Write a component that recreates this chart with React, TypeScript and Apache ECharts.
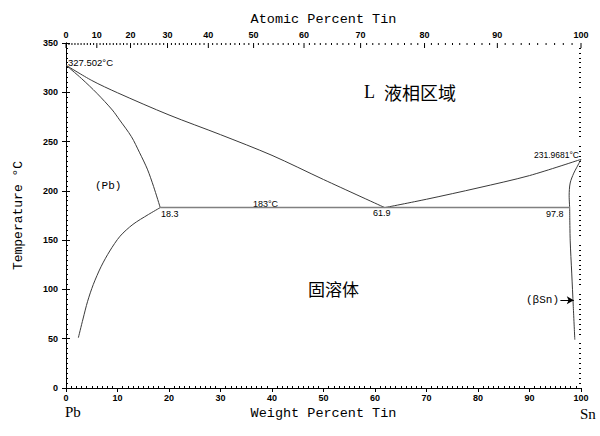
import React, { useEffect, useRef } from "react";
import * as echarts from "echarts";

// ---- data (weight percent Sn, temperature °C) ----
const liquidusPb: number[][] = [[0, 327.502], [5, 312], [10, 299.5], [20, 277], [30, 257], [40, 236], [50, 211.5], [61.9, 183]];
const solidusPb: number[][] = [[0, 327.502], [3, 314], [6, 299], [9, 282], [10.4, 272], [12.7, 255], [14.3, 238.6], [15.8, 222], [17, 204.5], [18.3, 183]];
const solvusPb: number[][] = [[18.3, 183], [16, 176], [13, 166], [10.5, 154], [8.5, 139], [6.8, 123], [5.3, 105], [4.2, 88], [3.3, 70], [2.4, 51]];
const liquidusSn: number[][] = [[61.9, 183], [70, 191.5], [80, 203], [90, 215.5], [100, 231.9681]];
const solidusSn: number[][] = [[100, 231.9681], [99.2, 224], [98.6, 218], [97.9, 208], [97.7, 195], [97.8, 183]];
const solvusSn: number[][] = [[97.8, 183], [97.9, 150], [98.2, 116.6], [98.5, 82.8], [98.8, 49]];
const eutectic: number[][] = [[18.3, 183], [97.8, 183]];
const betaSnArrow: number[][] = [[96, 89], [98.6, 89]];

const weightTicks = [0, 10, 20, 30, 40, 50, 60, 70, 80, 90, 100];
const tempTicks = [0, 50, 100, 150, 200, 250, 300, 350];
const atomicTicks = [0, 10, 20, 30, 40, 50, 60, 70, 80, 90, 100];
const atomicMinor = Array.from({ length: 101 }, (_, i) => i).filter((a) => a % 10 !== 0);

const M_SN = 118.71;
const M_PB = 207.2;
const atToWt = (a: number) => (a * M_SN) / (a * M_SN + (100 - a) * M_PB) * 100;

const LABEL_FONT = 'bold 9px "Liberation Sans", Arial, sans-serif';
const MONO = '"Liberation Mono", "DejaVu Sans Mono", monospace';
const LINE = "#3a3a3a";

export default function App() {
  const ref = useRef<HTMLDivElement>(null);
  useEffect(() => {
    if (!ref.current) return;
    const chart = echarts.init(ref.current, undefined, { renderer: "svg" });
    const curve = (data: number[][], color = LINE, width = 1) => ({
      type: "line",
      data,
      xAxisIndex: 0,
      yAxisIndex: 0,
      symbol: "none",
      smooth: 0.3,
      lineStyle: { color, width },
      silent: true,
    });
    const axisLabel = { show: true, color: "#000", fontSize: 9, fontWeight: "bold", fontFamily: '"Liberation Sans", Arial, sans-serif' };
    const option: any = {
      animation: false,
      backgroundColor: "#fff",
      grid: { left: 66, right: 19, top: 43, bottom: 48 },
      xAxis: [
        {
          type: "value", position: "bottom", min: weightTicks[0], max: weightTicks[weightTicks.length - 1], interval: 10,
          axisLine: { lineStyle: { color: "#000", width: 1 } },
          axisTick: { show: true, length: 4, lineStyle: { color: "#000" } },
          axisLabel: { ...axisLabel, margin: 5 },
          splitLine: { show: false },
          name: "Weight Percent Tin", nameLocation: "middle", nameGap: 17,
          nameTextStyle: { fontFamily: MONO, fontSize: 13.5, color: "#000" },
        },
        {
          type: "value", position: "bottom", min: 0, max: 100, interval: 10,
          axisLine: { show: false }, axisLabel: { show: false },
          axisTick: { show: false, inside: true },
          minorTick: { show: true, splitNumber: 10, length: 2, lineStyle: { color: "#000" } },
          splitLine: { show: false },
        },
        {
          type: "value", position: "top", min: 0, max: 100, interval: 10,
          axisLine: { lineStyle: { color: "#000", width: 1 } },
          axisTick: { show: false }, axisLabel: { show: false },
          splitLine: { show: false },
          name: "Atomic Percent Tin", nameLocation: "middle", nameGap: 17,
          nameTextStyle: { fontFamily: MONO, fontSize: 13.5, color: "#000" },
        },
      ],
      yAxis: [
        {
          type: "value", position: "left", min: tempTicks[0], max: tempTicks[tempTicks.length - 1], interval: 50,
          axisLine: { show: true, lineStyle: { color: "#000", width: 1 } },
          axisTick: { show: true, length: 4, lineStyle: { color: "#000" } },
          axisLabel: { ...axisLabel, margin: 8 },
          splitLine: { show: false },
          name: "Temperature °C", nameLocation: "middle", nameGap: 41,
          nameTextStyle: { fontFamily: MONO, fontSize: 13, color: "#000" },
        },
        {
          type: "value", position: "left", min: 0, max: 350, interval: 50,
          axisLine: { show: false }, axisLabel: { show: false },
          axisTick: { show: false, inside: true },
          minorTick: { show: true, splitNumber: 10, length: 2, lineStyle: { color: "#000" } },
          splitLine: { show: false },
        },
        {
          type: "value", position: "right", min: 0, max: 350, interval: 50,
          axisLine: { show: true, lineStyle: { color: "#000", width: 1 } },
          axisTick: { show: true, length: 4, lineStyle: { color: "#000" } },
          axisLabel: { show: false },
          splitLine: { show: false },
        },
        {
          type: "value", position: "right", min: 0, max: 350, interval: 50,
          axisLine: { show: false }, axisLabel: { show: false },
          axisTick: { show: false, inside: true },
          minorTick: { show: true, splitNumber: 10, length: 2, lineStyle: { color: "#000" } },
          splitLine: { show: false },
        },
      ],
      series: [
        curve(liquidusPb),
        curve(solidusPb),
        curve(solvusPb),
        curve(liquidusSn),
        curve(solidusSn),
        curve(solvusSn),
        { ...curve(eutectic, "#808080", 1.5), smooth: false },
        {
          type: "line", data: [], xAxisIndex: 0, yAxisIndex: 0, symbol: "none",
          markLine: {
            silent: true, symbol: ["none", "arrow"], symbolSize: [6, 7],
            label: { show: false },
            lineStyle: { color: "#000", width: 1, type: "solid" },
            data: [[{ coord: betaSnArrow[0] }, { coord: betaSnArrow[1] }]],
          },
        },
        {
          type: "custom", xAxisIndex: 0, yAxisIndex: 0, silent: true,
          data: atomicTicks.map((a) => [atToWt(a), a]),
          encode: { x: 0 },
          renderItem: (params: any, api: any) => {
            const p = api.coord([api.value(0), 350]);
            return {
              type: "group",
              children: [
                { type: "line", shape: { x1: p[0], y1: p[1], x2: p[0], y2: p[1] + 5 }, style: { stroke: "#000", lineWidth: 1 } },
                { type: "text", x: p[0], y: p[1] - 4, style: { text: String(api.value(1)), textAlign: "center", textVerticalAlign: "bottom", font: LABEL_FONT, fill: "#000" } },
              ],
            };
          },
        },
        {
          type: "custom", xAxisIndex: 0, yAxisIndex: 0, silent: true,
          data: atomicMinor.map((a) => [atToWt(a), a]),
          encode: { x: 0 },
          renderItem: (params: any, api: any) => {
            const p = api.coord([api.value(0), 350]);
            return { type: "line", shape: { x1: p[0], y1: p[1], x2: p[0], y2: p[1] + 2 }, style: { stroke: "#000", lineWidth: 1 } };
          },
        },
      ],
      graphic: [
        { type: "text", left: 68, top: 57, style: { text: "327.502°C", font: '9.5px "Liberation Sans", Arial', fill: "#000" } },
        { type: "text", right: 21, top: 150, style: { text: "231.9681°C", font: '8.5px "Liberation Sans", Arial', fill: "#000" } },
        { type: "text", left: 161, top: 209, style: { text: "18.3", font: '9px "Liberation Sans", Arial', fill: "#000" } },
        { type: "text", left: 253, top: 199, style: { text: "183°C", font: '9px "Liberation Sans", Arial', fill: "#000" } },
        { type: "text", left: 373, top: 208, style: { text: "61.9", font: '9px "Liberation Sans", Arial', fill: "#000" } },
        { type: "text", left: 546, top: 209, style: { text: "97.8", font: '9px "Liberation Sans", Arial', fill: "#000" } },
        { type: "text", left: 95, top: 180, style: { text: "(Pb)", font: `11px ${MONO}`, fill: "#000" } },
        { type: "text", left: 526, top: 294, style: { text: "(βSn)", font: `11px ${MONO}`, fill: "#000" } },
        { type: "text", left: 364, top: 83, style: { text: "L", font: '18px "Liberation Serif", serif', fill: "#000" } },
        { type: "text", left: 384, top: 83, style: { text: "液相区域", font: '18px "Noto Sans CJK SC", sans-serif', fill: "#000" } },
        { type: "text", left: 308, top: 280, style: { text: "固溶体", font: '17px "Noto Sans CJK SC", sans-serif', fill: "#000" } },
        { type: "text", left: 65, top: 404, style: { text: "Pb", font: '15px "Liberation Serif", serif', fill: "#000" } },
        { type: "text", left: 580, top: 406, style: { text: "Sn", font: '15px "Liberation Serif", serif', fill: "#000" } },
      ],
    };
    chart.setOption(option);
    return () => chart.dispose();
  }, []);
  return <div ref={ref} style={{ width: 600, height: 436, position: "absolute", left: 0, top: 0 }} />;
}
